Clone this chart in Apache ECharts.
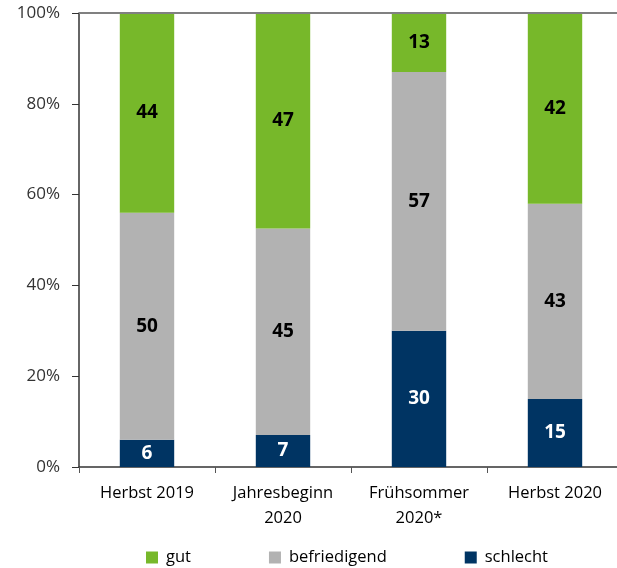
<!DOCTYPE html>
<html>
<head>
<meta charset="utf-8">
<script src="https://cdn.jsdelivr.net/npm/echarts@6/dist/echarts.min.js"></script>
<style>html,body{margin:0;padding:0;background:#fff;overflow:hidden;width:617px;height:568px;}#c{width:623px;height:568px;}</style>
</head>
<body>
<div id="c"></div>
<script>
const categories = ['Herbst 2019', 'Jahresbeginn\n2020', 'Frühsommer\n2020*', 'Herbst 2020'];
const schlecht = [6, 7, 30, 15];
const befriedigend = [50, 45, 57, 43];
const gut = [44, 47, 13, 42];
const yTicks = [0, 20, 40, 60, 80, 100];

const totals = categories.map((_, i) => schlecht[i] + befriedigend[i] + gut[i]);
const pct = arr => arr.map((v, i) => v / totals[i] * 100);

const FONT = 'Open Sans';
const chart = echarts.init(document.getElementById('c'), null, {renderer: 'canvas'});

function mk(name, raw, color, labelColor) {
  return {
    name: name, type: 'bar', stack: 'total', barWidth: '40%',
    data: pct(raw),
    itemStyle: {color: color},
    label: {
      show: true, position: 'inside', color: labelColor,
      fontFamily: FONT, fontWeight: 'bold', fontSize: 19,
      formatter: p => raw[p.dataIndex]
    }
  };
}

chart.setOption({
  animation: false,
  grid: {left: 79, right: 0, top: 13, bottom: 101, containLabel: false},
  legend: {
    top: 549, left: 146, padding: 0, itemWidth: 12, itemHeight: 12, itemGap: 78,
    icon: 'rect',
    textStyle: {fontFamily: FONT, fontSize: 16.5, color: '#000', padding: [0, 0, 0, 3]},
    data: ['gut', 'befriedigend', 'schlecht']
  },
  xAxis: {
    type: 'category', data: categories,
    axisLine: {lineStyle: {color: '#333', width: 1.5}},
    axisTick: {show: true, alignWithLabel: false, length: 6, lineStyle: {color: '#555'}},
    axisLabel: {fontFamily: FONT, fontSize: 16.5, color: '#000', lineHeight: 25, margin: 14}
  },
  yAxis: {
    type: 'value', min: 0, max: 100, interval: 20,
    axisLine: {show: true, lineStyle: {color: '#333', width: 1.5}},
    axisTick: {show: true, length: 7, lineStyle: {color: '#333'}},
    splitLine: {show: false},
    axisLabel: {fontFamily: FONT, fontSize: 17, color: '#333', margin: 19, formatter: '{value}%'}
  },
  series: [
    mk('schlecht', schlecht, '#003463', '#fff'),
    mk('befriedigend', befriedigend, '#B2B2B2', '#000'),
    Object.assign(mk('gut', gut, '#77B82A', '#000'), {
      markLine: {
        silent: true, symbol: 'none', label: {show: false},
        lineStyle: {color: '#808080', width: 2, type: 'solid'},
        data: [{yAxis: 100}]
      }
    })
  ]
});
</script>
</body>
</html>
